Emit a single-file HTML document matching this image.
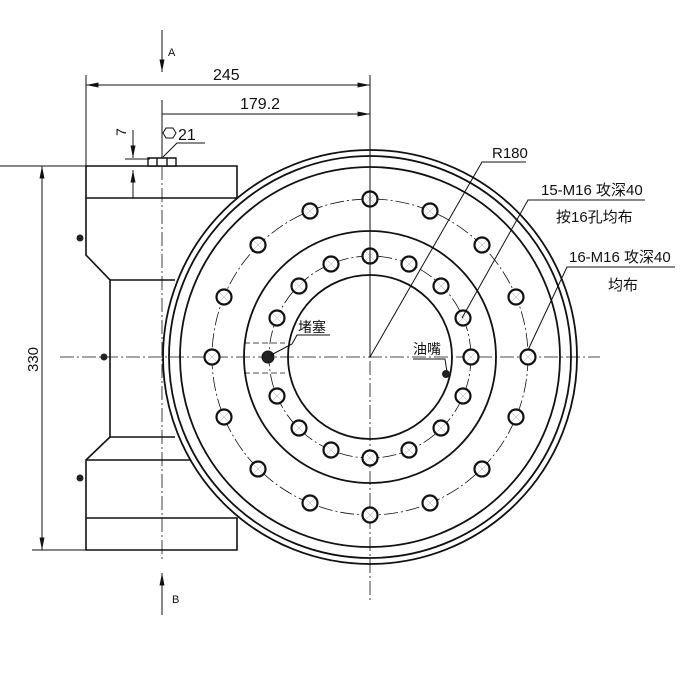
<!DOCTYPE html>
<html><head><meta charset="utf-8"><style>body{margin:0;background:#fff}svg{display:block}
text{font-family:"Liberation Sans Narrow","Liberation Sans","Noto Sans CJK SC",sans-serif;fill:#111}</style></head><body>
<svg width="700" height="700" viewBox="0 0 700 700" xmlns="http://www.w3.org/2000/svg">
<defs><marker id="ar" viewBox="0 0 10 4" refX="10" refY="2" markerWidth="14" markerHeight="5" orient="auto-start-reverse" markerUnits="userSpaceOnUse"><path d="M0,0L10,2L0,4z" fill="#111"/></marker>
<symbol id="ho" overflow="visible"><circle cx="0" cy="0" r="7.5" fill="#fff" stroke="#111" stroke-width="2.2"/><path d="M-4.5,-4.5L4.5,4.5M4.5,-4.5L-4.5,4.5" stroke="#aaa" stroke-width="0.5"/></symbol></defs>
<g stroke="#111" fill="none" stroke-width="1.6">
<path d="M86,166H237V198H86Z"/>
<path d="M86,198V255L110,280V437L86,460V550H237V518H86"/>
<path d="M110,280H175M110,437H175M86,460H237"/>
</g>
<circle cx="370" cy="357" r="207" fill="#fff" stroke="#111" stroke-width="1.8"/>
<g stroke="#111" fill="none" stroke-width="1.8">
<circle cx="370" cy="357" r="201"/>
<circle cx="370" cy="357" r="190"/>
<circle cx="370" cy="357" r="126"/>
<circle cx="370" cy="357" r="82"/>
</g>
<g stroke="#111" fill="none" stroke-width="0.8" stroke-dasharray="14,3,2,3">
<circle cx="370" cy="357" r="158"/>
<circle cx="370" cy="357" r="101"/>
<path d="M60,357H600M370,75V600M162,100V560"/>
<path d="M244,343H285M244,373H285" stroke-dasharray="6,3"/>
</g>
<use href="#ho" x="528" y="357"/><use href="#ho" x="516" y="297"/><use href="#ho" x="482" y="245"/><use href="#ho" x="430" y="211"/>
<use href="#ho" x="370" y="199"/><use href="#ho" x="310" y="211"/><use href="#ho" x="258" y="245"/><use href="#ho" x="224" y="297"/>
<use href="#ho" x="212" y="357"/><use href="#ho" x="224" y="417"/><use href="#ho" x="258" y="469"/><use href="#ho" x="310" y="503"/>
<use href="#ho" x="370" y="515"/><use href="#ho" x="430" y="503"/><use href="#ho" x="482" y="469"/><use href="#ho" x="516" y="417"/>
<use href="#ho" x="471" y="357"/><use href="#ho" x="463" y="318"/><use href="#ho" x="441" y="286"/><use href="#ho" x="409" y="264"/>
<use href="#ho" x="370" y="256"/><use href="#ho" x="331" y="264"/><use href="#ho" x="299" y="286"/><use href="#ho" x="277" y="318"/>
<use href="#ho" x="277" y="396"/><use href="#ho" x="299" y="428"/><use href="#ho" x="331" y="450"/>
<use href="#ho" x="370" y="458"/><use href="#ho" x="409" y="450"/><use href="#ho" x="441" y="428"/><use href="#ho" x="463" y="396"/>
<circle cx="268" cy="357" r="6" fill="#222" stroke="#111"/>
<circle cx="446" cy="374" r="4" fill="#222"/>
<g fill="#222"><circle cx="80" cy="238" r="3.5"/><circle cx="104" cy="357" r="3.5"/><circle cx="80" cy="478" r="3.5"/></g>
<path d="M148,158H176V166H148ZM157,158V166M167,158V166" stroke="#111" fill="#fff" stroke-width="1.4"/>
<g stroke="#111" stroke-width="1" fill="none">
<path d="M86,75V166M370,75V357M162,100V158"/>
<path d="M86,85H370" marker-start="url(#ar)" marker-end="url(#ar)"/>
<path d="M162,114H370" marker-end="url(#ar)"/>
<path d="M133,130V158" marker-end="url(#ar)"/><path d="M133,198V170" marker-end="url(#ar)"/>
<path d="M125,159H150M0,166H86"/>
<path d="M163,157L177,143H205"/>
<path d="M162,30V72" marker-end="url(#ar)"/><path d="M162,615V573" marker-end="url(#ar)"/>
<path d="M30,166H86M32,550H86"/>
<path d="M42,166V550" marker-start="url(#ar)" marker-end="url(#ar)"/>
<path d="M370,357L482,162H526"/>
<path d="M462,318L528,200H645"/>
<path d="M528,350L567,267H675"/>
<path d="M271,355L292,344L297,335H330"/>
<path d="M413,359H445L447,372"/>
</g>
<path d="M176,133l-3,-5h-7l-3,5l3,5h7z" fill="none" stroke="#111" stroke-width="1"/>
<text x="178" y="140" font-size="16">21</text>
<text x="213" y="80" font-size="16">245</text>
<text x="240" y="109" font-size="16">179.2</text>
<text x="126" y="136" font-size="14" transform="rotate(-90 126 136)">7</text>
<text x="168" y="56" font-size="11">A</text>
<text x="172" y="603" font-size="11">B</text>
<text x="38" y="372" font-size="15" transform="rotate(-90 38 372)">330</text>
<text x="492" y="158" font-size="15">R180</text>
<text x="541" y="195" font-size="15">15-M16 攻深40</text>
<text x="556" y="222" font-size="15">按16孔均布</text>
<text x="569" y="262" font-size="15">16-M16 攻深40</text>
<text x="608" y="290" font-size="15">均布</text>
<text x="298" y="332" font-size="14">堵塞</text>
<text x="413" y="354" font-size="14">油嘴</text>
</svg>
</body></html>
